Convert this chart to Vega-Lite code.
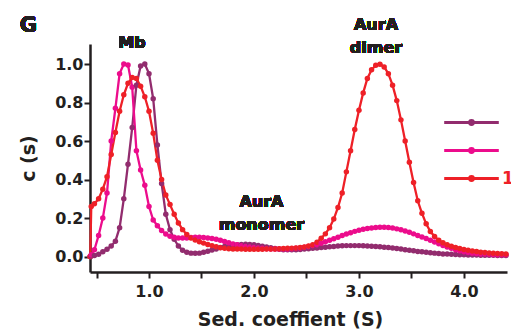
{
  "$schema": "https://vega.github.io/schema/vega-lite/v6.json",
  "width": 417,
  "height": 228,
  "autosize": {"type": "none"},
  "padding": {"left": 90, "top": 44, "right": 4, "bottom": 59},
  "background": "white",
  "config": {
    "view": {"stroke": null},
    "axis": {"domainColor": "#231f20", "domainWidth": 2.5, "tickColor": "#231f20", "tickWidth": 2, "tickSize": 6, "labelFont": "DejaVu Sans", "labelFontWeight": "bold", "labelFontSize": 16, "labelColor": "#231f20", "titleFont": "DejaVu Sans", "titleFontWeight": "bold", "titleFontSize": 19, "titleColor": "#231f20", "grid": false},
    "text": {"font": "DejaVu Sans", "fontWeight": "bold", "fontSize": 16, "baseline": "alphabetic", "align": "center", "fill": "#231f20", "strokeWidth": 0}
  },
  "data": {"values": [
    {"s":0.44,"low":0,"mid":0,"10 µM":0},
    {"s":0.45,"low":0.003,"mid":0.01,"10 µM":0.26},
    {"s":0.48,"low":0.006,"mid":0.035,"10 µM":0.275},
    {"s":0.52,"low":0.012,"mid":0.11,"10 µM":0.30},
    {"s":0.56,"low":0.025,"mid":0.20,"10 µM":0.35},
    {"s":0.60,"low":0.038,"mid":0.33,"10 µM":0.415},
    {"s":0.64,"low":0.055,"mid":0.60,"10 µM":0.53},
    {"s":0.68,"low":0.08,"mid":0.77,"10 µM":0.645},
    {"s":0.72,"low":0.15,"mid":0.95,"10 µM":0.755},
    {"s":0.76,"low":0.30,"mid":1.0,"10 µM":0.84},
    {"s":0.80,"low":0.48,"mid":0.995,"10 µM":0.90},
    {"s":0.84,"low":0.67,"mid":0.88,"10 µM":0.93},
    {"s":0.88,"low":0.89,"mid":0.55,"10 µM":0.925},
    {"s":0.92,"low":0.99,"mid":0.45,"10 µM":0.885},
    {"s":0.96,"low":1.0,"mid":0.37,"10 µM":0.83},
    {"s":1.00,"low":0.95,"mid":0.26,"10 µM":0.755},
    {"s":1.04,"low":0.82,"mid":0.19,"10 µM":0.64},
    {"s":1.08,"low":0.58,"mid":0.16,"10 µM":0.50},
    {"s":1.12,"low":0.38,"mid":0.135,"10 µM":0.40},
    {"s":1.16,"low":0.22,"mid":0.117,"10 µM":0.32},
    {"s":1.20,"low":0.14,"mid":0.106,"10 µM":0.27},
    {"s":1.24,"low":0.09,"mid":0.10,"10 µM":0.22},
    {"s":1.28,"low":0.055,"mid":0.097,"10 µM":0.175},
    {"s":1.32,"low":0.033,"mid":0.096,"10 µM":0.14},
    {"s":1.36,"low":0.022,"mid":0.097,"10 µM":0.115},
    {"s":1.40,"low":0.018,"mid":0.099,"10 µM":0.097},
    {"s":1.44,"low":0.017,"mid":0.10,"10 µM":0.086},
    {"s":1.48,"low":0.018,"mid":0.10,"10 µM":0.077},
    {"s":1.52,"low":0.022,"mid":0.099,"10 µM":0.07},
    {"s":1.56,"low":0.028,"mid":0.097,"10 µM":0.063},
    {"s":1.60,"low":0.034,"mid":0.094,"10 µM":0.057},
    {"s":1.64,"low":0.04,"mid":0.09,"10 µM":0.051},
    {"s":1.68,"low":0.047,"mid":0.085,"10 µM":0.046},
    {"s":1.72,"low":0.052,"mid":0.079,"10 µM":0.043},
    {"s":1.76,"low":0.056,"mid":0.072,"10 µM":0.041},
    {"s":1.80,"low":0.059,"mid":0.066,"10 µM":0.04},
    {"s":1.84,"low":0.062,"mid":0.061,"10 µM":0.04},
    {"s":1.88,"low":0.063,"mid":0.057,"10 µM":0.039},
    {"s":1.92,"low":0.064,"mid":0.053,"10 µM":0.038},
    {"s":1.96,"low":0.063,"mid":0.05,"10 µM":0.038},
    {"s":2.00,"low":0.061,"mid":0.047,"10 µM":0.038},
    {"s":2.04,"low":0.058,"mid":0.045,"10 µM":0.038},
    {"s":2.08,"low":0.054,"mid":0.043,"10 µM":0.038},
    {"s":2.12,"low":0.05,"mid":0.041,"10 µM":0.039},
    {"s":2.16,"low":0.046,"mid":0.04,"10 µM":0.04},
    {"s":2.20,"low":0.042,"mid":0.039,"10 µM":0.04},
    {"s":2.24,"low":0.038,"mid":0.039,"10 µM":0.041},
    {"s":2.28,"low":0.036,"mid":0.039,"10 µM":0.042},
    {"s":2.32,"low":0.035,"mid":0.04,"10 µM":0.043},
    {"s":2.36,"low":0.035,"mid":0.041,"10 µM":0.044},
    {"s":2.40,"low":0.036,"mid":0.043,"10 µM":0.045},
    {"s":2.44,"low":0.037,"mid":0.045,"10 µM":0.047},
    {"s":2.48,"low":0.039,"mid":0.048,"10 µM":0.05},
    {"s":2.52,"low":0.041,"mid":0.052,"10 µM":0.055},
    {"s":2.56,"low":0.043,"mid":0.057,"10 µM":0.062},
    {"s":2.60,"low":0.045,"mid":0.062,"10 µM":0.075},
    {"s":2.64,"low":0.047,"mid":0.069,"10 µM":0.095},
    {"s":2.68,"low":0.049,"mid":0.077,"10 µM":0.118},
    {"s":2.72,"low":0.051,"mid":0.085,"10 µM":0.15},
    {"s":2.76,"low":0.053,"mid":0.093,"10 µM":0.195},
    {"s":2.80,"low":0.055,"mid":0.101,"10 µM":0.255},
    {"s":2.84,"low":0.056,"mid":0.109,"10 µM":0.33},
    {"s":2.88,"low":0.057,"mid":0.117,"10 µM":0.44},
    {"s":2.92,"low":0.057,"mid":0.124,"10 µM":0.55},
    {"s":2.96,"low":0.057,"mid":0.131,"10 µM":0.66},
    {"s":3.00,"low":0.057,"mid":0.137,"10 µM":0.76},
    {"s":3.04,"low":0.056,"mid":0.142,"10 µM":0.85},
    {"s":3.08,"low":0.055,"mid":0.146,"10 µM":0.925},
    {"s":3.12,"low":0.054,"mid":0.149,"10 µM":0.97},
    {"s":3.16,"low":0.052,"mid":0.151,"10 µM":0.994},
    {"s":3.20,"low":0.051,"mid":0.152,"10 µM":0.999},
    {"s":3.24,"low":0.049,"mid":0.152,"10 µM":0.985},
    {"s":3.28,"low":0.047,"mid":0.151,"10 µM":0.95},
    {"s":3.32,"low":0.045,"mid":0.148,"10 µM":0.89},
    {"s":3.36,"low":0.042,"mid":0.144,"10 µM":0.81},
    {"s":3.40,"low":0.039,"mid":0.139,"10 µM":0.71},
    {"s":3.44,"low":0.036,"mid":0.133,"10 µM":0.60},
    {"s":3.48,"low":0.033,"mid":0.126,"10 µM":0.49},
    {"s":3.52,"low":0.03,"mid":0.118,"10 µM":0.385},
    {"s":3.56,"low":0.027,"mid":0.11,"10 µM":0.29},
    {"s":3.60,"low":0.025,"mid":0.102,"10 µM":0.225},
    {"s":3.64,"low":0.022,"mid":0.094,"10 µM":0.17},
    {"s":3.68,"low":0.02,"mid":0.085,"10 µM":0.13},
    {"s":3.72,"low":0.018,"mid":0.076,"10 µM":0.105},
    {"s":3.76,"low":0.016,"mid":0.067,"10 µM":0.085},
    {"s":3.80,"low":0.014,"mid":0.058,"10 µM":0.072},
    {"s":3.84,"low":0.013,"mid":0.05,"10 µM":0.062},
    {"s":3.88,"low":0.012,"mid":0.043,"10 µM":0.054},
    {"s":3.92,"low":0.011,"mid":0.036,"10 µM":0.047},
    {"s":3.96,"low":0.01,"mid":0.03,"10 µM":0.042},
    {"s":4.00,"low":0.009,"mid":0.025,"10 µM":0.037},
    {"s":4.04,"low":0.008,"mid":0.021,"10 µM":0.033},
    {"s":4.08,"low":0.008,"mid":0.018,"10 µM":0.029},
    {"s":4.12,"low":0.008,"mid":0.016,"10 µM":0.026},
    {"s":4.16,"low":0.007,"mid":0.014,"10 µM":0.023},
    {"s":4.20,"low":0.007,"mid":0.013,"10 µM":0.021},
    {"s":4.24,"low":0.007,"mid":0.012,"10 µM":0.019},
    {"s":4.28,"low":0.007,"mid":0.011,"10 µM":0.017},
    {"s":4.32,"low":0.006,"mid":0.01,"10 µM":0.016},
    {"s":4.36,"low":0.006,"mid":0.01,"10 µM":0.015},
    {"s":4.40,"low":0.006,"mid":0.009,"10 µM":0.014}
  ]},
  "transform": [{"fold": ["low", "mid", "10 µM"], "as": ["series", "c"]}],
  "layer": [
    {
      "mark": {"type": "line", "strokeWidth": 2.3, "point": {"filled": true, "size": 30, "opacity": 1}},
      "encoding": {
        "x": {"field": "s", "type": "quantitative", "scale": {"domain": [0.438, 4.41], "nice": false, "zero": false},
              "axis": {"title": "Sed. coeffient (S)", "values": [0.5, 1, 1.5, 2, 2.5, 3, 3.5, 4], "format": ".1f", "labelExpr": "datum.value % 1 == 0 ? datum.label : ''", "labelPadding": 5, "titleX": 200, "titleY": 53, "titleBaseline": "alphabetic", "titleAlign": "center"}},
        "y": {"field": "c", "type": "quantitative", "scale": {"domain": [-0.08, 1.104], "nice": false, "zero": false},
              "axis": {"title": "c (s)", "values": [0, 0.1, 0.2, 0.3, 0.4, 0.5, 0.6, 0.7, 0.8, 0.9, 1.0, 1.1], "format": ".1f", "labelExpr": "round(datum.value * 10) % 2 == 0 ? datum.label : ''", "labelPadding": 1, "titleX": -62, "titleY": 114, "titleBaseline": "middle", "titleAlign": "center"}},
        "color": {"field": "series", "type": "nominal",
                  "scale": {"domain": ["low", "mid", "10 µM"], "range": ["#922c6e", "#ec0c8c", "#ee2027"]},
                  "legend": {"orient": "none", "legendX": 373, "legendY": 70, "title": null, "padding": 0,
                             "symbolType": "M-3.9,0H3.9M0.27,0A0.27,0.27,0,1,1,-0.27,0A0.27,0.27,0,1,1,0.27,0Z",
                             "symbolSize": 196, "symbolStrokeWidth": 3, "labelFont": "DejaVu Sans", "labelFontSize": 17, "labelFontWeight": "bold", "labelOffset": 22, "rowPadding": 10,
                             "labelExpr": "datum.label == '10 µM' ? datum.label : ''",
                             "encode": {"symbols": {"update": {"fill": {"signal": "scale('color', datum.value)"}, "stroke": {"signal": "scale('color', datum.value)"}, "opacity": {"value": 1}}},
                                        "labels": {"update": {"fill": {"signal": "scale('color', datum.value)"}}}}}},
        "order": {"field": "s", "type": "quantitative"}
      }
    },
    {"mark": {"type": "text"}, "encoding": {"x": {"datum": 0.838}, "y": {"datum": 1.083}, "text": {"value": "Mb"}}},
    {"mark": {"type": "text"}, "encoding": {"x": {"datum": 3.162}, "y": {"datum": 1.177}, "text": {"value": "AurA"}}},
    {"mark": {"type": "text"}, "encoding": {"x": {"datum": 3.162}, "y": {"datum": 1.059}, "text": {"value": "dimer"}}},
    {"mark": {"type": "text"}, "encoding": {"x": {"datum": 2.071}, "y": {"datum": 0.257}, "text": {"value": "AurA"}}},
    {"mark": {"type": "text"}, "encoding": {"x": {"datum": 2.071}, "y": {"datum": 0.138}, "text": {"value": "monomer"}}},
    {"mark": {"type": "text", "fontSize": 21, "align": "left"}, "encoding": {"x": {"datum": -0.23}, "y": {"datum": 1.165}, "text": {"value": "G"}}}
  ]
}
